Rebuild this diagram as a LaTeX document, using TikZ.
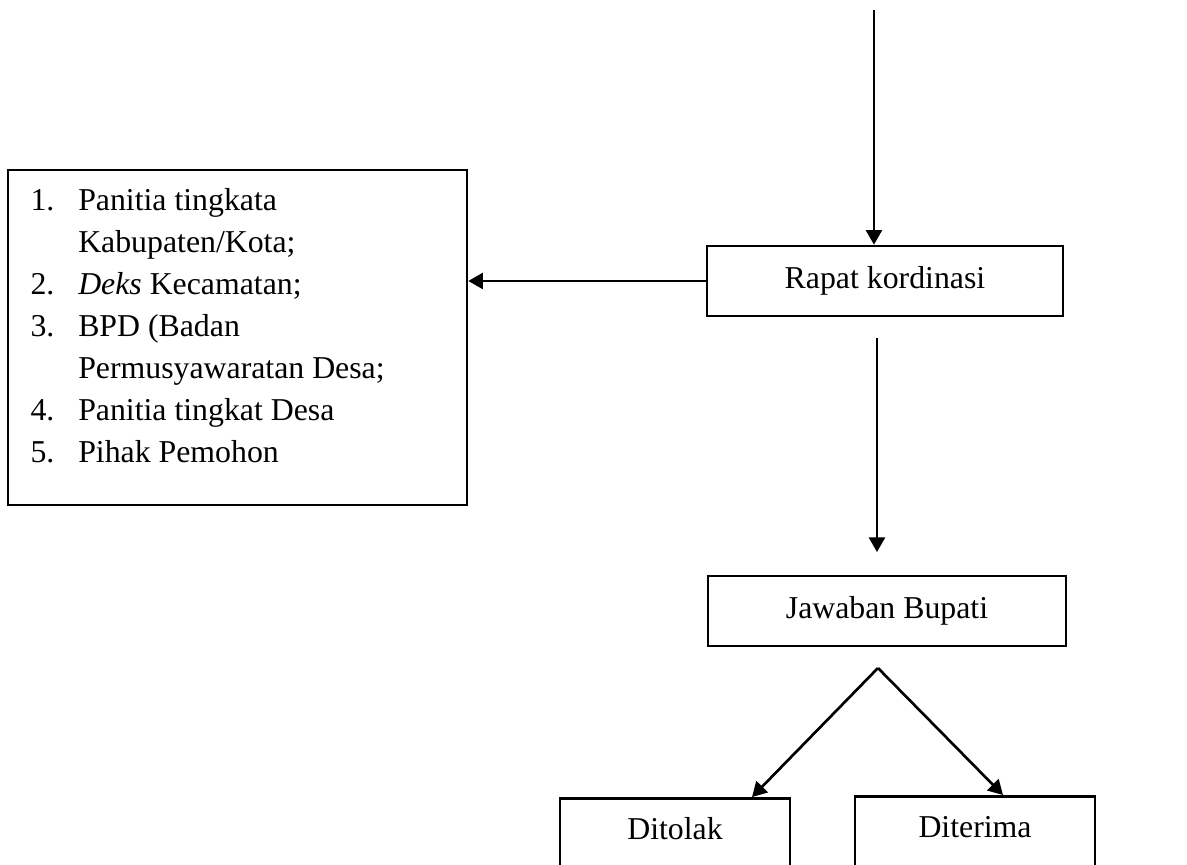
\documentclass[tikz,border=0pt]{standalone}
\usepackage{fontspec}
\setmainfont{Liberation Serif}
\usepackage{tikz}
\usetikzlibrary{arrows.meta,positioning}
\pgfdeclarelayer{edgelayer}
\pgfdeclarelayer{nodelayer}
\pgfsetlayers{edgelayer,nodelayer,main}
\newcommand{\bodyfont}{\fontsize{12}{15.85}\selectfont}
\tikzstyle{box}=[rectangle,draw=black,line width=1pt,inner sep=0pt,font=\bodyfont]
\tikzstyle{stepbox}=[box,minimum height=0.928cm]
\tikzstyle{endbox}=[box,anchor=north,minimum height=1.326cm,text height=8pt,text depth=14.7pt]
\tikzstyle{listtext}=[anchor=base west,inner sep=0pt,font=\bodyfont]
\tikzstyle{none}=[inner sep=0pt]
\tikzstyle{flow}=[-{Triangle[length=5.5pt,width=6pt]},line width=1pt]

\begin{document}
\begin{tikzpicture}
	\useasboundingbox (0,0) rectangle (15.74,11.457);
	\begin{pgfonlayer}{nodelayer}
		\coordinate (in) at (11.589, 11.324);
		\node [style=stepbox, minimum width=4.72cm] (rapat) at (11.735, 7.731) {Rapat kordinasi};
		\node [style=box, minimum width=6.086cm, minimum height=4.442cm] (list) at (3.149, 6.981) {};
		\node [style=listtext] (items) at (0.398, 8.672) {%
			\begin{tabular}[t]{@{}p{18pt}@{}l@{}}
			1. & Panitia tingkata\\
			   & Kabupaten/Kota;\\
			2. & \textit{Deks} Kecamatan;\\
			3. & BPD (Badan\\
			   & Permusyawaratan Desa;\\
			4. & Panitia tingkat Desa\\
			5. & Pihak Pemohon
			\end{tabular}};
		\node [style=stepbox, minimum width=4.747cm] (jawab) at (11.762, 3.355) {Jawaban Bupati};
		\coordinate (split) at (11.642, 2.599);
		\node [style=endbox, minimum width=3.05cm] (tolak) at (8.951, 0.888) {Ditolak};
		\node [style=endbox, minimum width=3.18cm] (terima) at (12.929, 0.915) {Diterima};
	\end{pgfonlayer}
	\begin{pgfonlayer}{edgelayer}
		\draw [style=flow] (in) to (in |- rapat.north);
		\draw [style=flow] (rapat.west) to (rapat.west -| list.east);
		\draw [style=flow, shorten <=0.28cm, shorten >=0.3cm] ([xshift=-0.106cm]rapat.south) to ([xshift=-0.106cm]rapat.south |- jawab.north);
		\draw [style=flow] (split) to ([xshift=1.021cm]tolak.north);
		\draw [style=flow] (split) to ([xshift=0.371cm]terima.north);
	\end{pgfonlayer}
\end{tikzpicture}
\end{document}
